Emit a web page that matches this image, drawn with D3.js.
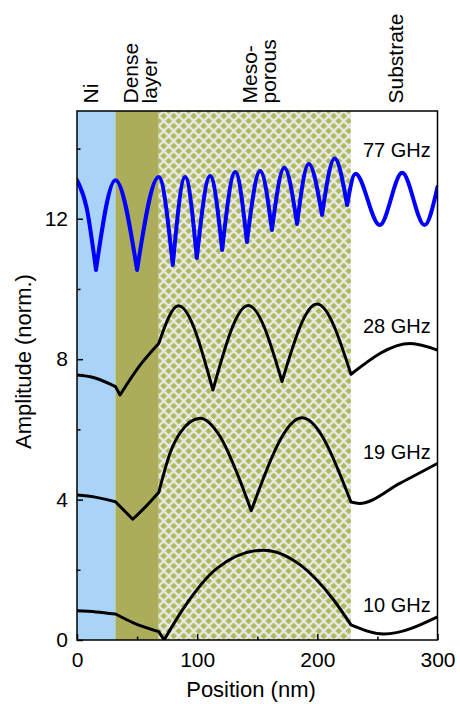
<!DOCTYPE html>
<html lang="en">
<head>
  <meta charset="UTF-8" />
  <script src="https://d3js.org/d3.v7.min.js"></script>
  <title>Amplitude vs position</title>
  <style>
    body { margin: 0; background: #fff; }
    svg text { font-family: "Liberation Sans", Arial, sans-serif; fill: #000; }
  </style>
</head>
<body>
  <div id="chart"></div>
  <script>
    // layers (nm)
    const layerEdges = [0, 32, 68, 228, 300];
    const layerNames = [["Ni"], ["Dense", "layer"], ["Meso-", "porous"], ["Substrate"]];

    // 77 GHz
    const pos77 = [0, 8.1, 15.8, 32, 50, 68, 79.7, 90, 99.7, 110.8, 120.8, 131.7, 141.4, 152.5, 162.2, 172.5, 183.1, 192.8, 203.9, 214.4, 224.8, 231.7, 251.9, 270.6, 289.2, 300];
    const amp77 = [13.1, 12.3, 10.54, 13.1, 10.54, 13.19, 10.68, 13.19, 10.88, 13.22, 11.11, 13.33, 11.34, 13.36, 11.68, 13.45, 11.85, 13.56, 12.11, 13.72, 12.39, 13.28, 11.82, 13.31, 11.82, 12.91];
    const kinks77 = [15.8, 50, 79.7, 99.7, 120.8, 141.4, 162.2, 183.1, 203.9, 224.8];

    // 28 GHz
    const pos28 = [0, 13.6, 32, 35.8, 52.5, 68, 84.4, 113.1, 142.5, 170.6, 199.7, 228, 277.5, 300];
    const amp28 = [7.55, 7.48, 7.22, 6.98, 7.83, 8.45, 9.52, 7.12, 9.53, 7.36, 9.57, 7.57, 8.45, 8.26];
    const kinks28 = [32, 35.8, 68, 113.1, 170.6, 228];

    // 19 GHz
    const pos19 = [0, 15, 32, 46.4, 57.2, 68, 77.5, 85.8, 102.5, 119.2, 133.1, 145, 187.3, 228, 235, 269, 300];
    const amp19 = [4.13, 4.07, 3.94, 3.44, 3.80, 4.20, 5.33, 5.90, 6.32, 5.79, 4.76, 3.68, 6.33, 3.93, 3.89, 4.47, 5.03];
    const kinks19 = [32, 46.4, 68, 145, 228];

    // 10 GHz
    const pos10 = [0, 15.8, 32, 46.9, 68, 72.5, 88.6, 116.4, 155.2, 185.8, 213.6, 228, 255.3, 300];
    const amp10 = [0.83, 0.80, 0.74, 0.49, 0.24, 0.0, 0.90, 2.04, 2.56, 2.14, 1.14, 0.43, 0.17, 0.66];
    const kinks10 = [32, 68, 72.5, 228];

    const freqLabels = ["77 GHz", "28 GHz", "19 GHz", "10 GHz"];

    const xTicks = [0, 100, 200, 300];
    const xMinor = [50, 150, 250];
    const yTicks = [0, 4, 8, 12];
    const yMinor = [2, 6, 10, 14];

    const width = 460, height = 704;
    const plotL = 77, plotR = 437.5, plotT = 111, plotB = 640;

    const svg = d3.select("#chart").append("svg")
      .attr("width", width)
      .attr("height", height);

    svg.append("rect").attr("width", width).attr("height", height).attr("fill", "#fff");

    const x = d3.scaleLinear().domain([0, 300]).range([plotL, plotR]);
    const y = d3.scaleLinear().domain([0, 15.07]).range([plotB, plotT]);

    const defs = svg.append("defs");
    defs.append("clipPath").attr("id", "plot-clip")
      .append("rect")
      .attr("x", plotL).attr("y", plotT)
      .attr("width", plotR - plotL).attr("height", plotB - plotT);

    // crosshatch for mesoporous layer
    const p = 10, r = (p - 2.3 * Math.SQRT2) / 2;
    const pat = defs.append("pattern")
      .attr("id", "meso")
      .attr("patternUnits", "userSpaceOnUse")
      .attr("x", x(68)).attr("y", plotT)
      .attr("width", p).attr("height", p);
    pat.append("rect").attr("width", p).attr("height", p).attr("fill", "#e9e9e6");
    [[p / 2, p / 2], [0, 0], [p, 0], [0, p], [p, p]].forEach(([cx, cy]) => {
      pat.append("polygon")
        .attr("points", `${cx},${cy - r} ${cx + r},${cy} ${cx},${cy + r} ${cx - r},${cy}`)
        .attr("fill", "#adb95a");
    });

    const layerFills = ["#a9d3f7", "#abad5b", "url(#meso)", "#ffffff"];
    svg.append("g").selectAll("rect")
      .data(layerFills)
      .join("rect")
      .attr("x", (d, i) => x(layerEdges[i]))
      .attr("y", plotT)
      .attr("width", (d, i) => x(layerEdges[i + 1]) - x(layerEdges[i]))
      .attr("height", plotB - plotT)
      .attr("fill", d => d);

    // split a series at its kinks so the cusps stay sharp
    function seriesPath(pos, amp, kinks) {
      const line = d3.line()
        .x(d => x(d[0]))
        .y(d => y(d[1]))
        .curve(d3.curveMonotoneX);
      const segs = [];
      let cur = [];
      pos.forEach((v, i) => {
        const pt = [v, amp[i]];
        cur.push(pt);
        if (kinks.includes(v)) {
          segs.push(cur);
          cur = [pt];
        }
      });
      if (cur.length > 1) segs.push(cur);
      return segs.map((s, i) => i === 0 ? line(s) : "L" + line(s).slice(1)).join("");
    }

    const curves = svg.append("g").attr("clip-path", "url(#plot-clip)");
    const series = [
      { pos: pos10, amp: amp10, kinks: kinks10, color: "#000", w: 3 },
      { pos: pos19, amp: amp19, kinks: kinks19, color: "#000", w: 3 },
      { pos: pos28, amp: amp28, kinks: kinks28, color: "#000", w: 3 },
      { pos: pos77, amp: amp77, kinks: kinks77, color: "#0000ff", w: 4 }
    ];
    series.forEach(s => {
      curves.append("path")
        .attr("d", seriesPath(s.pos, s.amp, s.kinks))
        .attr("fill", "none")
        .attr("stroke", s.color)
        .attr("stroke-width", s.w)
        .attr("stroke-linejoin", "round")
        .attr("stroke-linecap", "round");
    });

    // axes, ticks inward
    const fontSize = "21px";
    const gx = svg.append("g").attr("transform", `translate(0,${plotB})`)
      .call(d3.axisBottom(x).tickValues(xTicks).tickSize(-6).tickPadding(12).tickFormat(d3.format("d")));
    gx.select(".domain").remove();
    gx.selectAll("text").attr("font-size", fontSize);
    const gxm = svg.append("g").attr("transform", `translate(0,${plotB})`)
      .call(d3.axisBottom(x).tickValues(xMinor).tickSize(-3.5).tickFormat(""));
    gxm.select(".domain").remove();

    const gy = svg.append("g").attr("transform", `translate(${plotL},0)`)
      .call(d3.axisLeft(y).tickValues(yTicks).tickSize(-6).tickPadding(9).tickFormat(d3.format("d")));
    gy.select(".domain").remove();
    gy.selectAll("text").attr("font-size", fontSize);
    const gym = svg.append("g").attr("transform", `translate(${plotL},0)`)
      .call(d3.axisLeft(y).tickValues(yMinor).tickSize(-3.5).tickFormat(""));
    gym.select(".domain").remove();

    svg.selectAll(".tick line").attr("stroke", "#000").attr("stroke-width", 1.5);
    svg.selectAll(".tick text").attr("font-family", null);

    svg.append("rect")
      .attr("x", plotL).attr("y", plotT)
      .attr("width", plotR - plotL).attr("height", plotB - plotT)
      .attr("fill", "none")
      .attr("stroke", "#000")
      .attr("stroke-width", 1.5);

    // axis titles
    svg.append("text")
      .attr("x", 251).attr("y", 697)
      .attr("text-anchor", "middle")
      .attr("font-size", "22px")
      .text("Position (nm)");

    svg.append("text")
      .attr("transform", "translate(30.5,361.5) rotate(-90)")
      .attr("text-anchor", "middle")
      .attr("font-size", "22px")
      .text("Amplitude (norm.)");

    // layer names above the frame
    const nameX = [97.5, 137.5, 256.5, 403];
    layerNames.forEach((lines, i) => {
      lines.forEach((t, j) => {
        svg.append("text")
          .attr("transform", `translate(${nameX[i] + j * 19},103.5) rotate(-90)`)
          .attr("font-size", fontSize)
          .text(t);
      });
    });

    // frequency labels
    const labelBase = [157.3, 333.3, 458.5, 611.7];
    freqLabels.forEach((t, i) => {
      svg.append("text")
        .attr("x", 363).attr("y", labelBase[i])
        .attr("font-size", "20px")
        .text(t);
    });
  </script>
</body>
</html>
